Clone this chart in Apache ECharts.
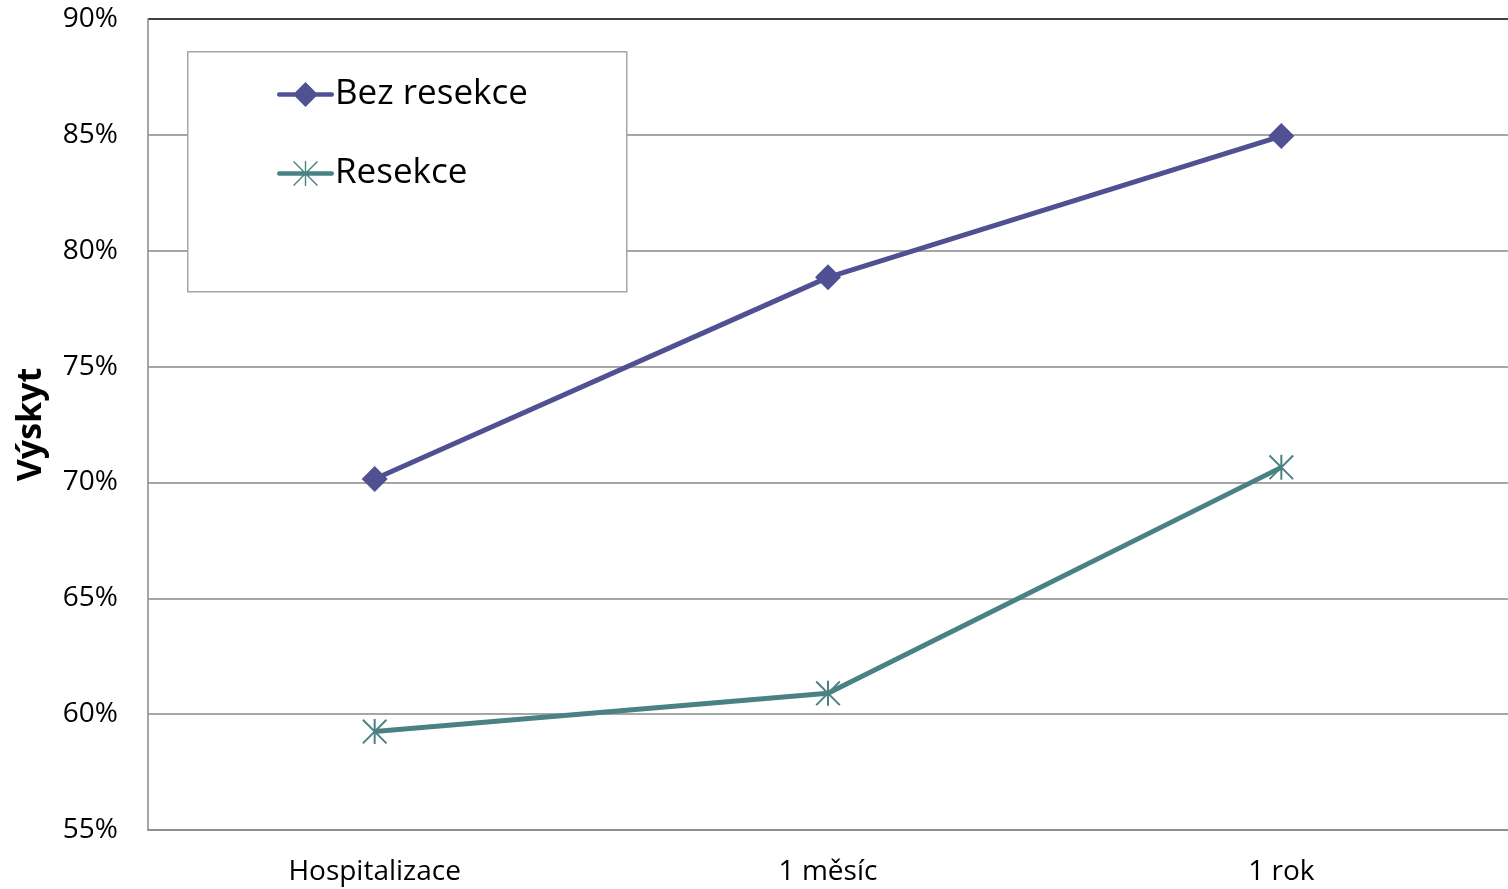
<!DOCTYPE html>
<html>
<head>
<meta charset="utf-8">
<script src="https://cdn.jsdelivr.net/npm/echarts@6/dist/echarts.min.js"></script>
<style>
  html, body { margin: 0; padding: 0; background: #fff; }
  #chart { width: 1508px; height: 889px; }
</style>
</head>
<body>
<div id="chart"></div>
<script>
// Share of patients over time, with and without resection
const categories = ['Hospitalizace', '1 měsíc', '1 rok'];
const bezResekce = [70.15, 78.85, 84.95];
const resekce = [59.25, 60.9, 70.65];
const seriesNames = ['Bez resekce', 'Resekce'];
const axisName = 'Výskyt';

// Asterisk marker: vertical stroke plus an X, drawn as thin filled bars
const starSymbol = 'path://M9.2 0 H10.8 V20 H9.2 Z M0 1.1 L1.1 0 L20 18.9 L18.9 20 Z M18.9 0 L20 1.1 L1.1 20 L0 18.9 Z';

// Legend icons (57 x 25 box): a rounded line segment with the series marker on it
const legendBar = 'M2 10.3 H55 A2.2 2.2 0 0 1 55 14.7 H2 A2.2 2.2 0 0 1 2 10.3 Z ';
const legendDiamond = 'path://' + legendBar + 'M28.5 0 L41 12.5 L28.5 25 L16 12.5 Z';
const legendStar = 'path://' + legendBar +
  'M27.8 0 H29.2 V25 H27.8 Z M16 1 L17 0 L41 24 L40 25 Z M40 0 L41 1 L17 25 L16 24 Z';

const purple = '#4F5192';
const teal = '#4A8284';
const font = '"Open Sans", sans-serif';

const chart = echarts.init(document.getElementById('chart'), null, { renderer: 'canvas' });
chart.setOption({
  animation: false,
  backgroundColor: '#fff',
  grid: { left: 148, right: 0, top: 19, bottom: 59 },
  graphic: [{
    type: 'rect',
    left: 187, top: 51,
    shape: { width: 439, height: 240 },
    style: { fill: '#fff', stroke: '#A6A6A6', lineWidth: 1.5 },
    z: 10
  }],
  legend: {
    left: 272, top: 72,
    orient: 'vertical',
    itemWidth: 57, itemHeight: 25,
    itemGap: 44,
    z: 20,
    textStyle: { fontFamily: font, fontSize: 35, color: '#000', padding: [0, 0, 0, -4] },
    data: [
      { name: seriesNames[0], icon: legendDiamond, itemStyle: { color: purple } },
      { name: seriesNames[1], icon: legendStar, itemStyle: { color: teal } }
    ]
  },
  xAxis: {
    type: 'category',
    data: categories,
    boundaryGap: true,
    axisLine: { lineStyle: { color: '#888', width: 1.5 } },
    axisTick: { alignWithLabel: true, length: 7, lineStyle: { color: '#888', width: 1.5 } },
    axisLabel: { fontFamily: font, fontSize: 28, color: '#000', margin: 28 },
    splitLine: { show: false }
  },
  yAxis: {
    type: 'value',
    min: 55, max: 90, interval: 5,
    name: axisName,
    nameLocation: 'middle',
    nameGap: 100,
    nameRotate: 90,
    nameTextStyle: { fontFamily: font, fontSize: 34, fontWeight: 'bold', color: '#000' },
    axisLine: { show: true, lineStyle: { color: '#888', width: 1.5 } },
    axisTick: { show: false },
    axisLabel: { fontFamily: font, fontSize: 28, color: '#000', margin: 30, formatter: v => v + '%' },
    splitLine: { lineStyle: { color: ['#888', '#888', '#888', '#888', '#888', '#888', '#888', '#000'], width: 1.5 } }
  },
  series: [
    {
      name: seriesNames[0],
      type: 'line',
      data: bezResekce,
      symbol: 'diamond',
      symbolSize: 26,
      lineStyle: { color: purple, width: 5 },
      itemStyle: { color: purple }
    },
    {
      name: seriesNames[1],
      type: 'line',
      data: resekce,
      symbol: starSymbol,
      symbolSize: 25,
      lineStyle: { color: teal, width: 5 },
      itemStyle: { color: teal }
    }
  ]
});
</script>
</body>
</html>
